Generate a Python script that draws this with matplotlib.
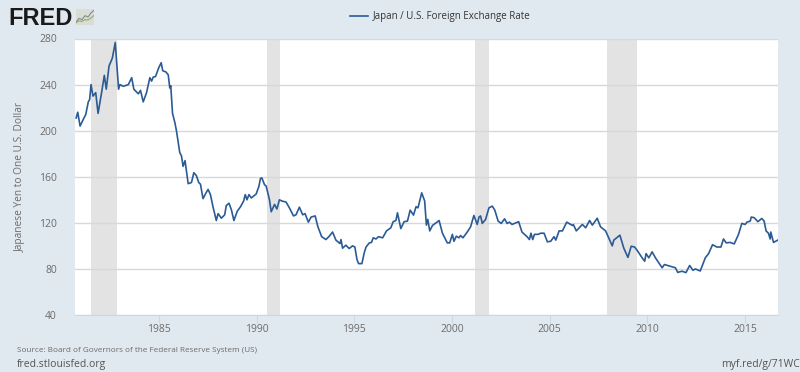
import matplotlib
matplotlib.use('Agg')
import matplotlib.pyplot as plt

years = [1980.77, 1980.85, 1980.97, 1981.14, 1981.26, 1981.39, 1981.46, 1981.53, 1981.63, 1981.77, 1981.89,
         1982.07, 1982.21, 1982.31, 1982.45, 1982.62, 1982.77, 1982.94, 1983.01, 1983.18, 1983.44, 1983.61,
         1983.72, 1983.95, 1984.06, 1984.20, 1984.37, 1984.54, 1984.63, 1984.71, 1984.83, 1984.98, 1985.12,
         1985.20, 1985.36, 1985.48, 1985.56, 1985.61, 1985.70, 1985.82, 1985.90, 1986.07, 1986.16, 1986.24,
         1986.34, 1986.50, 1986.67, 1986.79, 1986.92, 1987.04, 1987.13, 1987.26, 1987.43, 1987.52, 1987.64,
         1987.77, 1987.94, 1988.03, 1988.20, 1988.37, 1988.45, 1988.59, 1988.71, 1988.84, 1989.01, 1989.18,
         1989.34, 1989.42, 1989.51, 1989.61, 1989.73, 1989.98, 1990.12, 1990.20, 1990.27, 1990.41, 1990.49,
         1990.66, 1990.75, 1990.92, 1991.04, 1991.17, 1991.29, 1991.51, 1991.68, 1991.89, 1992.02, 1992.19,
         1992.36, 1992.48, 1992.65, 1992.79, 1993.00, 1993.13, 1993.33, 1993.55, 1993.72, 1993.89, 1994.06,
         1994.27, 1994.32, 1994.40, 1994.57, 1994.74, 1994.91, 1995.03, 1995.14, 1995.22, 1995.39, 1995.51,
         1995.60, 1995.77, 1995.88, 1995.97, 1996.11, 1996.24, 1996.45, 1996.65, 1996.87, 1996.99, 1997.13,
         1997.21, 1997.38, 1997.55, 1997.72, 1997.86, 1998.03, 1998.16, 1998.26, 1998.45, 1998.60, 1998.69,
         1998.76, 1998.86, 1999.00, 1999.34, 1999.51, 1999.76, 1999.88, 2000.02, 2000.10, 2000.22, 2000.36,
         2000.44, 2000.56, 2000.78, 2000.95, 2001.12, 2001.29, 2001.38, 2001.46, 2001.55, 2001.72, 2001.89,
         2002.06, 2002.19, 2002.36, 2002.52, 2002.69, 2002.82, 2002.94, 2003.07, 2003.41, 2003.58, 2003.84,
         2003.96, 2004.04, 2004.13, 2004.22, 2004.40, 2004.54, 2004.71, 2004.88, 2005.05, 2005.22, 2005.31,
         2005.48, 2005.65, 2005.87, 2006.16, 2006.21, 2006.36, 2006.67, 2006.84, 2007.04, 2007.18, 2007.43,
         2007.60, 2007.86, 2008.20, 2008.28, 2008.59, 2008.79, 2009.00, 2009.17, 2009.34, 2009.47, 2009.73,
         2009.86, 2009.93, 2010.07, 2010.24, 2010.41, 2010.75, 2010.87, 2011.17, 2011.43, 2011.55, 2011.77,
         2011.97, 2012.16, 2012.33, 2012.45, 2012.70, 2012.96, 2013.13, 2013.33, 2013.55, 2013.76, 2013.89,
         2014.03, 2014.23, 2014.44, 2014.66, 2014.83, 2015.00, 2015.09, 2015.26, 2015.31, 2015.46, 2015.65,
         2015.85, 2015.97, 2016.07, 2016.19, 2016.28, 2016.31, 2016.45, 2016.67]
yen = [211, 216, 204, 210, 214, 225, 227, 240, 230, 233, 215,
       233, 248, 236, 256, 263, 276.5, 236, 240, 238.5, 240, 246,
       236, 232, 235, 225, 233, 246, 243, 246.5, 247, 254, 259,
       252, 251, 248.5, 237, 239, 215, 207, 200, 181, 178, 169,
       174, 154, 155, 163.5, 161, 155, 153.5, 141, 146.5, 149, 144.5,
       134, 122, 128, 124, 127, 135, 137, 131.5, 122, 130, 134,
       139, 144.5, 140, 144.5, 141.6, 145, 151.7, 158.6, 159, 153, 152,
       140, 129.6, 136, 132, 140, 139, 138, 133, 126, 127, 133.6,
       127, 128, 120.6, 125, 126, 117, 108, 105.5, 108.4, 112, 105,
       102, 105.5, 98, 100.6, 97.7, 100, 99, 88, 84.6, 84.6, 94,
       99, 102.6, 103, 107, 106, 108, 107, 113, 115.7, 121, 122,
       128.7, 115, 121, 121.5, 131, 126.7, 134, 133, 146, 139, 118,
       123, 113, 117.7, 122, 111, 102.6, 102.6, 110, 104, 108.4, 107,
       109, 107, 112, 116.5, 126.4, 118.6, 125, 126, 119.5, 123, 133,
       134.5, 131, 121.5, 119.5, 123.5, 119.5, 120.6, 118.6, 121, 112, 108,
       105.5, 111, 105.5, 110, 110, 111, 111, 103.5, 104, 108, 105,
       113, 113, 120.6, 117.7, 118.5, 113, 118.6, 115.7, 122, 118, 124,
       116.5, 113, 100, 105, 109.3, 98, 90, 99.7, 99, 96.2, 89.6,
       86.7, 93.3, 89.6, 94.8, 89.6, 81, 83.8, 82.3, 81, 77, 78,
       76.8, 83, 78.8, 80, 78.2, 89.6, 93.3, 101, 99, 99, 106,
       102.6, 103, 101.7, 110, 119.5, 118.6, 120.6, 121.5, 125, 124.5, 121,
       123.8, 121.5, 113, 111, 106, 112, 103, 105]

recession_starts = [1981.52, 1990.53, 2001.2, 2007.95]
recession_ends = [1982.85, 1991.2, 2001.87, 2009.45]

y_ticks = [40, 80, 120, 160, 200, 240, 280]
x_ticks = [1985, 1990, 1995, 2000, 2005, 2010, 2015]

icon_x = [0, 1, 2, 3, 4, 5, 6]
icon_top = [1, 2.5, 2, 3.5, 3, 4.5, 5.5]
icon_low = [0.8, 1.6, 1.3, 2, 1.9, 2.6, 3.6]

bg = '#e1e9f0'
grey = '#6b6b6b'

plt.rcParams['font.family'] = ['Open Sans', 'DejaVu Sans']

fig = plt.figure(figsize=(8, 3.72), dpi=100, facecolor=bg)
ax = fig.add_axes([75 / 800, 1 - 315 / 372, 703 / 800, 276.5 / 372], facecolor='white')

for s, e in zip(recession_starts, recession_ends):
    ax.axvspan(s, e, color='#e3e3e3', lw=0, zorder=1)
ax.grid(axis='y', color='#d8d8d8', lw=1, zorder=2)
line, = ax.plot(years, yen, color='#2b5b95', lw=1.2, zorder=3, solid_joinstyle='round')

ax.set_xlim(1980.71, 2016.68)
ax.set_ylim(40, 280)
ax.set_yticks(y_ticks)
ax.set_xticks(x_ticks)
ax.tick_params(axis='y', length=0, pad=13, labelsize=7.5, labelcolor=grey)
ax.tick_params(axis='x', length=6, width=0.8, color='#ccd6eb', pad=0.5, labelsize=7.5, labelcolor=grey)
for name in ['top', 'left', 'right']:
    ax.spines[name].set_visible(False)
ax.spines['bottom'].set_color('#ccd6eb')
ax.set_ylabel('Japanese Yen to One U.S. Dollar', fontsize=7.25, color=grey)
ax.yaxis.set_label_coords(-49 / 703, 0.5)

# legend row
fig.legend([line], ['Japan / U.S. Foreign Exchange Rate'], loc='center', bbox_to_anchor=(440 / 800, 1 - 17 / 372),
           frameon=False, fontsize=7, labelcolor='#333333', handlelength=1.9, handletextpad=0.45)

# FRED logo
fig.text(8 / 800, 1 - 25 / 372, 'FRED', family='Liberation Sans', weight='bold', fontsize=17, color='#1a1a1a')
icon = fig.add_axes([76 / 800, 1 - 25 / 372, 18 / 800, 16 / 372], facecolor='#d9ddd6')
icon.plot(icon_x, icon_top, color='#7f8f86', lw=0.8)
icon.plot(icon_x, icon_low, color='#9aa86a', lw=0.8)
icon.set_xlim(0, 6)
icon.set_ylim(0, 6)
icon.set_xticks([])
icon.set_yticks([])
for s in icon.spines.values():
    s.set_visible(False)

fig.text(17 / 800, 1 - 350 / 372, 'Source: Board of Governors of the Federal Reserve System (US)',
         fontsize=5.85, color=grey, va='center')
fig.text(17 / 800, 1 - 364 / 372, 'fred.stlouisfed.org', fontsize=7.5, color='#555555', va='center')
fig.text(721 / 800, 1 - 364 / 372, 'myf.red/g/71WC', fontsize=7.5, color='#555555', va='center')

fig.savefig('out.png', dpi=100, facecolor=bg)
